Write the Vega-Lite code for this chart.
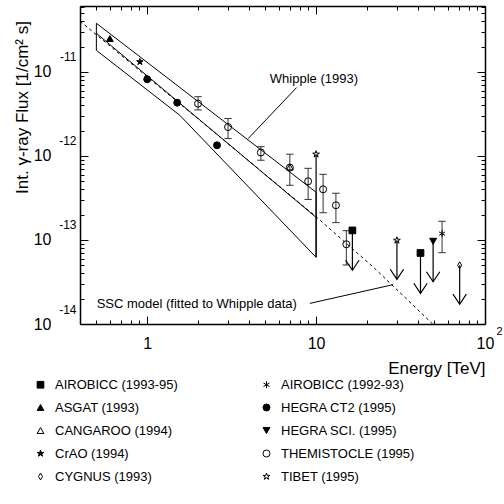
{
  "$schema": "https://vega.github.io/schema/vega-lite/v6.json",
  "width": 405,
  "height": 318,
  "autosize": {"type": "none"},
  "padding": {"left": 80, "top": 6, "right": 19, "bottom": 180},
  "config": {
    "font": "Liberation Sans",
    "view": {"stroke": null},
    "axis": {"grid": false, "domainColor": "black", "domainWidth": 1.5, "tickColor": "black", "tickWidth": 1, "labelColor": "black", "titleColor": "black", "labelFont": "Liberation Sans", "titleFont": "Liberation Sans", "labelOverlap": false, "labelBound": false, "labelFlush": false, "titleFontWeight": "normal"},
    "legend": {"labelFont": "Liberation Sans"}
  },
  "datasets": {
    "bow": [
      {"seg": "U", "ord": 1, "E": 0.5, "F": 3.8e-11},
      {"seg": "U", "ord": 2, "E": 10, "F": 3.7e-13},
      {"seg": "M", "ord": 1, "E": 0.5, "F": 2.89e-11},
      {"seg": "M", "ord": 2, "E": 10, "F": 1.86e-13},
      {"seg": "L", "ord": 1, "E": 0.5, "F": 1.81e-11},
      {"seg": "L", "ord": 2, "E": 1.56, "F": 3.05e-12},
      {"seg": "L", "ord": 3, "E": 10, "F": 6.22e-14},
      {"seg": "LV", "ord": 1, "E": 0.5, "F": 3.8e-11},
      {"seg": "LV", "ord": 2, "E": 0.5, "F": 1.81e-11},
      {"seg": "RV", "ord": 1, "E": 10, "F": 3.7e-13},
      {"seg": "RV", "ord": 2, "E": 10, "F": 6.22e-14}
    ],
    "ssc": [
      {"ord": 1, "E": 0.4, "F": 4.02e-11},
      {"ord": 2, "E": 2.05, "F": 2.66e-12},
      {"ord": 3, "E": 10.1, "F": 1.86e-13},
      {"ord": 4, "E": 22.2, "F": 4.6e-14},
      {"ord": 5, "E": 49.0, "F": 1.0e-14}
    ],
    "ptr": [
      {"seg": "W", "ord": 1, "E": 7.66, "F": 6.52e-12},
      {"seg": "W", "ord": 2, "E": 3.96, "F": 1.61e-12},
      {"seg": "S", "ord": 1, "E": 9.18, "F": 1.76e-14},
      {"seg": "S", "ord": 2, "E": 28.6, "F": 2.94e-14}
    ],
    "txt": [
      {"label": "Whipple (1993)", "E": 5.32, "F": 8.19e-12},
      {"label": "SSC model (fitted to Whipple data)", "E": 0.502, "F": 1.72e-14}
    ],
    "pts": [
      {"exp": "THEMISTOCLE (1995)", "E": 2.0, "F": 4.2e-12, "lo": 3.53e-12, "hi": 5.08e-12},
      {"exp": "THEMISTOCLE (1995)", "E": 3.01, "F": 2.21e-12, "lo": 1.61e-12, "hi": 2.79e-12},
      {"exp": "THEMISTOCLE (1995)", "E": 4.71, "F": 1.1e-12, "lo": 8.9e-13, "hi": 1.29e-12},
      {"exp": "THEMISTOCLE (1995)", "E": 6.99, "F": 7.28e-13, "lo": 4.48e-13, "hi": 1.05e-12},
      {"exp": "THEMISTOCLE (1995)", "E": 8.97, "F": 5.0e-13, "lo": 3.04e-13, "hi": 7.13e-13},
      {"exp": "THEMISTOCLE (1995)", "E": 11.0, "F": 4.01e-13, "lo": 2.11e-13, "hi": 6.05e-13},
      {"exp": "THEMISTOCLE (1995)", "E": 13.1, "F": 2.59e-13, "lo": 1.61e-13, "hi": 3.6e-13},
      {"exp": "THEMISTOCLE (1995)", "E": 15.1, "F": 8.9e-14, "lo": 5.04e-14, "hi": 1.29e-13},
      {"exp": "CANGAROO (1994)", "E": 6.99, "F": 7.4e-13},
      {"exp": "HEGRA CT2 (1995)", "E": 1.0, "F": 8.18e-12},
      {"exp": "HEGRA CT2 (1995)", "E": 1.505, "F": 4.31e-12},
      {"exp": "HEGRA CT2 (1995)", "E": 2.59, "F": 1.34e-12},
      {"exp": "ASGAT (1993)", "E": 0.601, "F": 2.5e-11},
      {"exp": "CrAO (1994)", "E": 0.905, "F": 1.32e-11},
      {"exp": "TIBET (1995)", "E": 10.0, "F": 1.05e-12, "ul": 6.22e-14, "head": false},
      {"exp": "TIBET (1995)", "E": 30.1, "F": 9.9e-14, "ul": 3.4e-14, "head": true},
      {"exp": "AIROBICC (1993-95)", "E": 16.4, "F": 1.3e-13, "ul": 4.36e-14, "head": true},
      {"exp": "AIROBICC (1993-95)", "E": 41.5, "F": 7.0e-14, "ul": 2.32e-14, "head": true},
      {"exp": "HEGRA SCI. (1995)", "E": 49.3, "F": 9.64e-14, "ul": 3.18e-14, "head": true},
      {"exp": "AIROBICC (1992-93)", "E": 55.7, "F": 1.19e-13, "lo": 7.06e-14, "hi": 1.67e-13},
      {"exp": "CYGNUS (1993)", "E": 70.8, "F": 5.0e-14, "ul": 1.72e-14, "head": true}
    ]
  },
  "resolve": {"axis": {"x": "independent", "y": "independent"}},
  "layer": [
    {
      "data": {"name": "bow"},
      "mark": {"type": "line", "color": "black", "strokeWidth": 1},
      "encoding": {
        "x": {"field": "E", "type": "quantitative", "scale": {"type": "log", "domain": [0.4, 100], "nice": false},
          "axis": {"orient": "bottom", "values": [0.4,0.5,0.6,0.7,0.8,0.9,1,2,3,4,5,6,7,8,9,10,20,30,40,50,60,70,80,90,100],
            "labelExpr": "datum.value == 1 ? '1' : (datum.value == 10 || datum.value == 100) ? '10' : ''",
            "tickSize": {"condition": {"test": "abs(log(datum.value)/LN10 - round(log(datum.value)/LN10)) < 0.001", "value": -8}, "value": -4},
            "labelFontSize": 16, "labelPadding": 19,
            "title": "Energy [TeV]", "titleFontSize": 17, "titleFontWeight": "normal", "titleX": 405, "titleY": 44, "titleAlign": "right", "titleBaseline": "middle", "titleAnchor": null}},
        "y": {"field": "F", "type": "quantitative", "scale": {"type": "log", "domain": [1e-14, 6.1e-11], "nice": false},
          "axis": {"orient": "left", "values": [1e-14,2e-14,3e-14,4e-14,5e-14,6e-14,7e-14,8e-14,9e-14,1e-13,2e-13,3e-13,4e-13,5e-13,6e-13,7e-13,8e-13,9e-13,1e-12,2e-12,3e-12,4e-12,5e-12,6e-12,7e-12,8e-12,9e-12,1e-11,2e-11,3e-11,4e-11,5e-11,6e-11],
            "labelExpr": "abs(log(datum.value)/LN10 - round(log(datum.value)/LN10)) < 0.001 ? '10' : ''",
            "tickSize": {"condition": {"test": "abs(log(datum.value)/LN10 - round(log(datum.value)/LN10)) < 0.001", "value": -8}, "value": -4},
            "labelFontSize": 16, "labelPadding": 37,
            "title": "Int. γ-ray Flux [1/cm² s]", "titleFontSize": 17, "titleFontWeight": "normal", "titleX": -58, "titleY": 101, "titleAngle": 270, "titleAlign": "center", "titleBaseline": "middle", "titleAnchor": null}},
        "detail": {"field": "seg"},
        "order": {"field": "ord", "type": "quantitative"}
      }
    },
    {
      "data": {"name": "ssc"},
      "mark": {"type": "line", "color": "black", "strokeWidth": 1, "strokeDash": [3, 3]},
      "encoding": {
        "x": {"field": "E", "type": "quantitative",
          "axis": {"orient": "top", "values": [0.4,0.5,0.6,0.7,0.8,0.9,1,2,3,4,5,6,7,8,9,10,20,30,40,50,60,70,80,90,100], "labels": false, "title": null, "titleOpacity": 0,
            "tickSize": {"condition": {"test": "abs(log(datum.value)/LN10 - round(log(datum.value)/LN10)) < 0.001", "value": -8}, "value": -4}}},
        "y": {"field": "F", "type": "quantitative",
          "axis": {"orient": "right", "values": [1e-14,2e-14,3e-14,4e-14,5e-14,6e-14,7e-14,8e-14,9e-14,1e-13,2e-13,3e-13,4e-13,5e-13,6e-13,7e-13,8e-13,9e-13,1e-12,2e-12,3e-12,4e-12,5e-12,6e-12,7e-12,8e-12,9e-12,1e-11,2e-11,3e-11,4e-11,5e-11,6e-11], "labels": false, "title": null, "titleOpacity": 0,
            "tickSize": {"condition": {"test": "abs(log(datum.value)/LN10 - round(log(datum.value)/LN10)) < 0.001", "value": -8}, "value": -4}}},
        "order": {"field": "ord", "type": "quantitative"}
      }
    },
    {
      "data": {"name": "ptr"},
      "mark": {"type": "line", "color": "black", "strokeWidth": 1},
      "encoding": {
        "x": {"field": "E", "type": "quantitative",
          "axis": {"orient": "bottom", "values": [100], "labelExpr": "'2'", "ticks": false, "domain": false, "labelFontSize": 11, "labelPadding": 1, "labelOffset": 14, "title": null, "titleOpacity": 0}},
        "y": {"field": "F", "type": "quantitative",
          "axis": {"orient": "left", "values": [1e-14, 1e-13, 1e-12, 1e-11], "labelExpr": "'' + round(log(datum.value)/LN10)", "ticks": false, "domain": false, "labelFontSize": 12, "labelPadding": 4, "labelOffset": -15, "title": null, "titleOpacity": 0}},
        "detail": {"field": "seg"},
        "order": {"field": "ord", "type": "quantitative"}
      }
    },
    {
      "data": {"name": "txt"},
      "mark": {"type": "text", "align": "left", "baseline": "middle", "fontSize": 13, "color": "black"},
      "encoding": {
        "x": {"field": "E", "type": "quantitative", "axis": null},
        "y": {"field": "F", "type": "quantitative", "axis": null},
        "text": {"field": "label"}
      }
    },
    {
      "data": {"name": "pts"},
      "transform": [{"filter": "isValid(datum.lo)"}],
      "mark": {"type": "rule", "color": "#333", "strokeWidth": 1},
      "encoding": {
        "x": {"field": "E", "type": "quantitative", "axis": null},
        "y": {"field": "lo", "type": "quantitative", "axis": null},
        "y2": {"field": "hi"}
      }
    },
    {
      "data": {"name": "pts"},
      "transform": [{"filter": "isValid(datum.lo)"}],
      "mark": {"type": "point", "shape": "M-1,0L1,0", "size": 55, "stroke": "#333", "strokeWidth": 1, "filled": false, "opacity": 1},
      "encoding": {
        "x": {"field": "E", "type": "quantitative", "axis": null},
        "y": {"field": "lo", "type": "quantitative", "axis": null}
      }
    },
    {
      "data": {"name": "pts"},
      "transform": [{"filter": "isValid(datum.lo)"}],
      "mark": {"type": "point", "shape": "M-1,0L1,0", "size": 55, "stroke": "#333", "strokeWidth": 1, "filled": false, "opacity": 1},
      "encoding": {
        "x": {"field": "E", "type": "quantitative", "axis": null},
        "y": {"field": "hi", "type": "quantitative", "axis": null}
      }
    },
    {
      "data": {"name": "pts"},
      "transform": [{"filter": "isValid(datum.ul)"}],
      "mark": {"type": "rule", "color": "black", "strokeWidth": 1.2},
      "encoding": {
        "x": {"field": "E", "type": "quantitative", "axis": null},
        "y": {"field": "F", "type": "quantitative", "axis": null},
        "y2": {"field": "ul"}
      }
    },
    {
      "data": {"name": "pts"},
      "transform": [{"filter": "datum.head === true"}],
      "mark": {"type": "point", "shape": "M-1,-1.5L0,0L1,-1.5", "size": 180, "stroke": "black", "strokeWidth": 1.2, "filled": false, "opacity": 1},
      "encoding": {
        "x": {"field": "E", "type": "quantitative", "axis": null},
        "y": {"field": "ul", "type": "quantitative", "axis": null}
      }
    },
    {
      "data": {"name": "pts"},
      "mark": {"type": "point", "opacity": 1},
      "encoding": {
        "x": {"field": "E", "type": "quantitative", "axis": null},
        "y": {"field": "F", "type": "quantitative", "axis": null},
        "shape": {"field": "exp", "type": "nominal",
          "scale": {"domain": ["AIROBICC (1993-95)", "ASGAT (1993)", "CANGAROO (1994)", "CrAO (1994)", "CYGNUS (1993)", "AIROBICC (1992-93)", "HEGRA CT2 (1995)", "HEGRA SCI. (1995)", "THEMISTOCLE (1995)", "TIBET (1995)"],
            "range": ["square", "triangle-up", "triangle-up", "M0,-1L0.225,-0.309L0.951,-0.309L0.363,0.118L0.588,0.809L0,0.382L-0.588,0.809L-0.363,0.118L-0.951,-0.309L-0.225,-0.309Z", "M0,-1L0.6,0L0,1L-0.6,0Z", "M0,-1L0,1M-0.866,-0.5L0.866,0.5M-0.866,0.5L0.866,-0.5", "circle", "triangle-down", "circle", "M0,-1L0.225,-0.309L0.951,-0.309L0.363,0.118L0.588,0.809L0,0.382L-0.588,0.809L-0.363,0.118L-0.951,-0.309L-0.225,-0.309Z"]},
          "legend": {"orient": "none", "legendX": -46, "legendY": 372, "columns": 2, "columnPadding": 82, "rowPadding": 9, "labelFontSize": 13, "labelColor": "black", "labelOffset": 8, "title": null, "padding": 0}},
        "fill": {"field": "exp", "type": "nominal",
          "scale": {"domain": ["AIROBICC (1993-95)", "ASGAT (1993)", "CANGAROO (1994)", "CrAO (1994)", "CYGNUS (1993)", "AIROBICC (1992-93)", "HEGRA CT2 (1995)", "HEGRA SCI. (1995)", "THEMISTOCLE (1995)", "TIBET (1995)"],
            "range": ["black", "black", "transparent", "black", "transparent", "transparent", "black", "black", "transparent", "transparent"]},
          "legend": {"orient": "none", "legendX": -46, "legendY": 372, "columns": 2, "columnPadding": 82, "rowPadding": 9, "labelFontSize": 13, "labelColor": "black", "labelOffset": 8, "title": null, "padding": 0}},
        "stroke": {"field": "exp", "type": "nominal",
          "scale": {"domain": ["AIROBICC (1993-95)", "ASGAT (1993)", "CANGAROO (1994)", "CrAO (1994)", "CYGNUS (1993)", "AIROBICC (1992-93)", "HEGRA CT2 (1995)", "HEGRA SCI. (1995)", "THEMISTOCLE (1995)", "TIBET (1995)"],
            "range": ["black", "black", "black", "black", "black", "black", "black", "black", "black", "black"]},
          "legend": {"orient": "none", "legendX": -46, "legendY": 372, "columns": 2, "columnPadding": 82, "rowPadding": 9, "labelFontSize": 13, "labelColor": "black", "labelOffset": 8, "title": null, "padding": 0}},
        "strokeWidth": {"field": "exp", "type": "nominal",
          "scale": {"domain": ["AIROBICC (1993-95)", "ASGAT (1993)", "CANGAROO (1994)", "CrAO (1994)", "CYGNUS (1993)", "AIROBICC (1992-93)", "HEGRA CT2 (1995)", "HEGRA SCI. (1995)", "THEMISTOCLE (1995)", "TIBET (1995)"],
            "range": [1, 1, 1, 1, 1, 1, 1, 1, 1, 0.7]},
          "legend": {"orient": "none", "legendX": -46, "legendY": 372, "columns": 2, "columnPadding": 82, "rowPadding": 9, "labelFontSize": 13, "labelColor": "black", "labelOffset": 8, "title": null, "padding": 0}},
        "size": {"field": "exp", "type": "nominal",
          "scale": {"domain": ["AIROBICC (1993-95)", "ASGAT (1993)", "CANGAROO (1994)", "CrAO (1994)", "CYGNUS (1993)", "AIROBICC (1992-93)", "HEGRA CT2 (1995)", "HEGRA SCI. (1995)", "THEMISTOCLE (1995)", "TIBET (1995)"],
            "range": [45, 50, 60, 36, 64, 90, 49, 50, 64, 110]},
          "legend": {"orient": "none", "legendX": -46, "legendY": 372, "columns": 2, "columnPadding": 82, "rowPadding": 9, "labelFontSize": 13, "labelColor": "black", "labelOffset": 8, "title": null, "padding": 0}}
      }
    }
  ]
}
